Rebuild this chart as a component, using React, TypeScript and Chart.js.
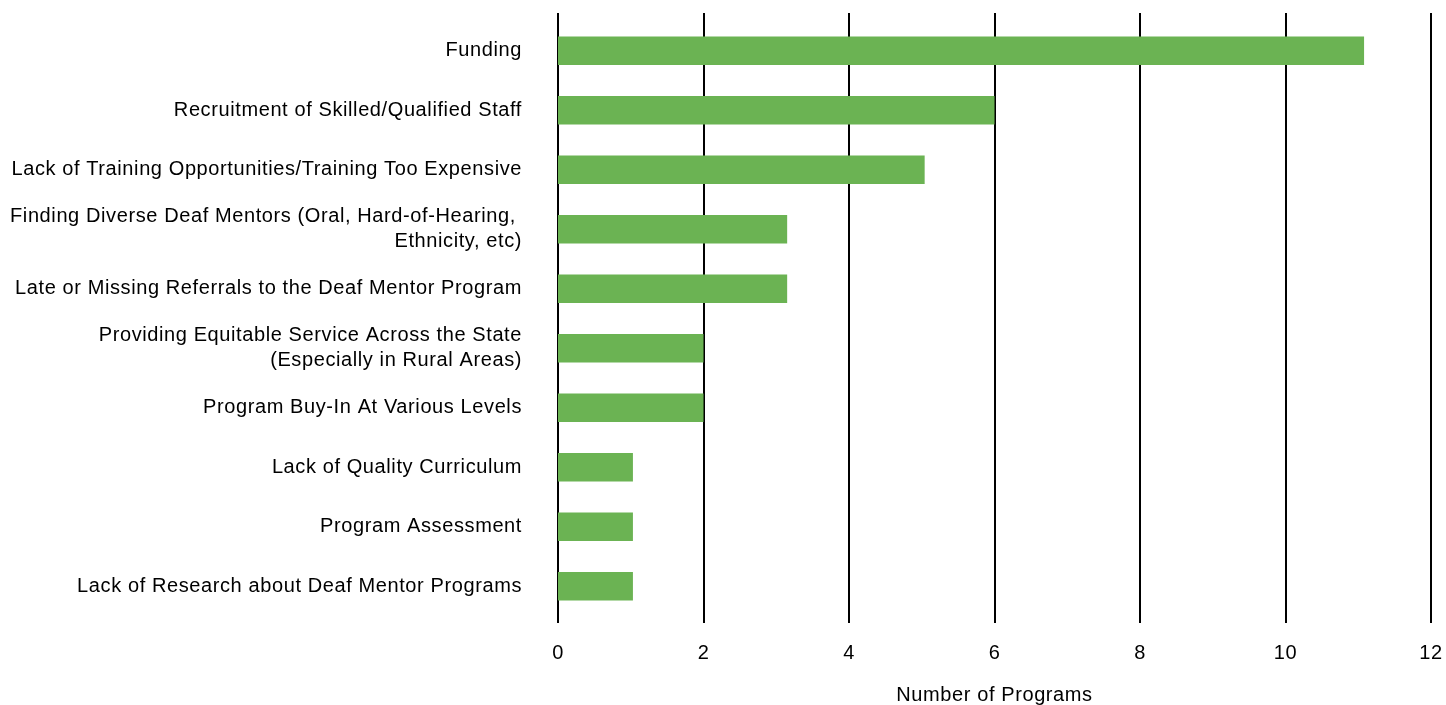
import React, { useEffect, useRef } from "react";
import { Chart, registerables } from "chart.js";

Chart.register(...registerables);

const categories: (string | string[])[] = [
  "Funding",
  "Recruitment of Skilled/Qualified Staff",
  "Lack of Training Opportunities/Training Too Expensive",
  ["Finding Diverse Deaf Mentors (Oral, Hard-of-Hearing, ", "Ethnicity, etc)"],
  "Late or Missing Referrals to the Deaf Mentor Program",
  ["Providing Equitable Service Across the State", "(Especially in Rural Areas)"],
  "Program Buy-In At Various Levels",
  "Lack of Quality Curriculum",
  "Program Assessment",
  "Lack of Research about Deaf Mentor Programs",
];

const programCounts: number[] = [11.08, 6, 5.04, 3.15, 3.15, 2, 2, 1.03, 1.03, 1.03];

const xTickValues: number[] = [0, 2, 4, 6, 8, 10, 12];
const xAxisTitle = "Number of Programs";

const FONT = "'Liberation Sans', Arial, Helvetica, sans-serif";

const gridPlugin = {
  id: "customGrid",
  beforeDraw(chart: any) {
    try {
      (chart.ctx as any).letterSpacing = "0.6px";
    } catch (e) {}
  },
  beforeDatasetsDraw(chart: any) {
    const { ctx, chartArea, scales } = chart;
    const xs = scales.x;
    ctx.save();
    ctx.strokeStyle = "#000000";
    ctx.lineWidth = 2;
    for (const v of xTickValues) {
      const px = Math.round(xs.getPixelForValue(v));
      ctx.beginPath();
      ctx.moveTo(px, chartArea.top - 8);
      ctx.lineTo(px, chartArea.bottom + 7);
      ctx.stroke();
    }
    ctx.restore();
  },
};

function zeroPadding(scale: any) {
  scale.paddingTop = 0;
  scale.paddingBottom = 0;
  scale.paddingLeft = 0;
  scale.paddingRight = 0;
}

export default function App() {
  const canvasRef = useRef<HTMLCanvasElement | null>(null);

  useEffect(() => {
    document.body.style.margin = "0";
    const canvas = canvasRef.current;
    if (!canvas) return;
    const chart = new Chart(canvas, {
      type: "bar",
      data: {
        labels: categories,
        datasets: [
          {
            data: programCounts,
            backgroundColor: "#6BB353",
            borderWidth: 0,
            barPercentage: 0.48,
            categoryPercentage: 1,
          },
        ],
      },
      options: {
        indexAxis: "y",
        animation: false,
        responsive: false,
        maintainAspectRatio: false,
        layout: { padding: { top: 21, right: 15, left: 0, bottom: 0 } },
        plugins: {
          legend: { display: false },
          tooltip: { enabled: false },
        },
        scales: {
          x: {
            min: 0,
            max: 12,
            afterBuildTicks(scale: any) {
              scale.ticks = xTickValues.map((v) => ({ value: v }));
            },
            afterFit(scale: any) {
              scale.height = 89;
              zeroPadding(scale);
            },
            grid: { display: false, drawTicks: false },
            border: { display: false },
            ticks: {
              padding: 25,
              color: "#000000",
              maxRotation: 0,
              font: { family: FONT, size: 20 },
            },
            title: {
              display: true,
              text: xAxisTitle,
              color: "#000000",
              font: { family: FONT, size: 20 },
              padding: { top: 0, bottom: -2 },
            },
          },
          y: {
            afterFit(scale: any) {
              scale.width = 558;
              zeroPadding(scale);
            },
            grid: { display: false, drawTicks: false },
            border: { display: false },
            ticks: {
              padding: 36,
              color: "#000000",
              autoSkip: false,
              font: { family: FONT, size: 20, lineHeight: 1.25 },
            },
          },
        },
      },
      plugins: [gridPlugin],
    });
    return () => chart.destroy();
  }, []);

  return (
    <div style={{ width: 1446, height: 705 }}>
      <canvas ref={canvasRef} width={1446} height={705} style={{ display: "block" }} />
    </div>
  );
}
